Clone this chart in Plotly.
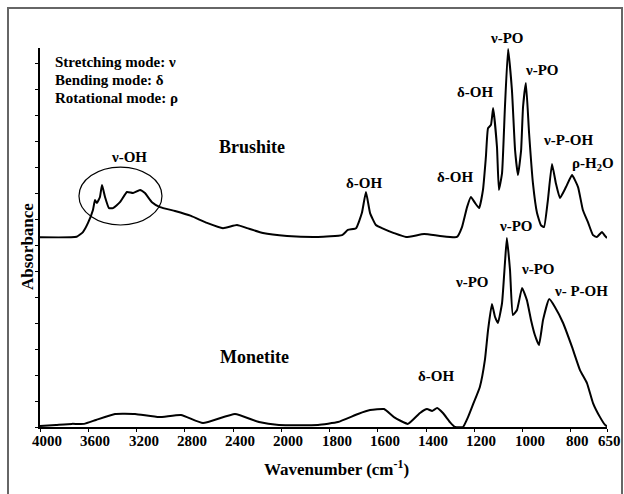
import plotly.graph_objects as go

# ---------------- data ----------------
tick_labels = [4000, 3600, 3200, 2800, 2400, 2000, 1800, 1600, 1400, 1200, 1000, 800, 650]

brushite_wn = [4000, 3696, 3644, 3602, 3561, 3544, 3528, 3503, 3486, 3461, 3428, 3395, 3337,
               3279, 3229, 3171, 3130, 3072, 3005, 2881, 2748, 2616, 2483, 2367, 2284, 2152,
               1976, 1848, 1748, 1724, 1690, 1666, 1649, 1632, 1608, 1583, 1533, 1483, 1408,
               1342, 1272, 1251, 1230, 1214, 1197, 1180, 1164, 1152, 1143, 1131, 1122, 1106,
               1098, 1085, 1073, 1060, 1044, 1031, 1019, 1006, 998, 986, 973, 957, 940, 924,
               911, 895, 878, 862, 845, 820, 795, 770, 750, 729, 708, 692, 671, 658, 650]
brushite_abs = [0.730, 0.732, 0.750, 0.785, 0.835, 0.873, 0.862, 0.885, 0.931, 0.885, 0.842,
                0.842, 0.865, 0.904, 0.900, 0.912, 0.900, 0.865, 0.846, 0.831, 0.812, 0.785,
                0.765, 0.777, 0.765, 0.746, 0.735, 0.731, 0.738, 0.758, 0.765, 0.823, 0.904,
                0.823, 0.777, 0.765, 0.746, 0.731, 0.742, 0.735, 0.731, 0.769, 0.846, 0.885,
                0.862, 0.842, 0.912, 1.038, 1.150, 1.162, 1.227, 1.077, 0.912, 0.977, 1.231,
                1.454, 1.296, 1.065, 0.969, 1.065, 1.231, 1.323, 1.131, 0.938, 0.823, 0.777,
                0.769, 0.873, 1.012, 0.938, 0.881, 0.923, 0.969, 0.923, 0.835, 0.788, 0.738,
                0.731, 0.750, 0.735, 0.727]

monetite_wn = [4000, 3867, 3735, 3635, 3536, 3378, 3213, 3014, 2831, 2649, 2384, 2185, 2019,
               1848, 1765, 1682, 1632, 1574, 1533, 1475, 1425, 1396, 1375, 1354, 1330, 1301,
               1280, 1247, 1226, 1206, 1177, 1156, 1143, 1127, 1114, 1102, 1085, 1073, 1065,
               1052, 1040, 1023, 1002, 982, 965, 949, 932, 915, 890, 866, 832, 795, 762, 733,
               708, 679, 658, 650]
monetite_abs = [0.004, 0.008, 0.012, 0.012, 0.027, 0.050, 0.050, 0.038, 0.046, 0.015, 0.050,
                0.019, 0.008, 0.008, 0.019, 0.050, 0.065, 0.069, 0.038, 0.012, 0.054, 0.069,
                0.062, 0.073, 0.054, 0.019, 0.000, 0.000, 0.038, 0.085, 0.154, 0.258, 0.373,
                0.473, 0.423, 0.400, 0.477, 0.631, 0.727, 0.604, 0.431, 0.450, 0.535, 0.488,
                0.412, 0.354, 0.315, 0.412, 0.492, 0.462, 0.400, 0.308, 0.219, 0.169, 0.092,
                0.038, 0.008, 0.002]

# annotation labels: (text, wavenumber, absorbance)
peak_labels = [
    ("ν-OH", 3262, 1.038),
    ("δ-OH", 1657, 0.938),
    ("δ-OH", 1280, 0.962),
    ("δ-OH", 1197, 1.288),
    ("ν-PO", 1065, 1.496),
    ("ν-PO", 920, 1.373),
    ("ν-P-OH", 808, 1.104),
    ("ρ-H<sub>2</sub>O", 708, 1.012),
    ("ν-PO", 1027, 0.773),
    ("ν-PO", 1210, 0.558),
    ("ν-PO", 936, 0.608),
    ("ν- P-OH", 758, 0.523),
    ("δ-OH", 1359, 0.196),
]
sample_labels = [("Brushite", 2240, 1.077), ("Monetite", 2226, 0.269)]
mode_lines = [("Stretching mode: ν", 3892, 1.404),
              ("Bending mode: δ", 3892, 1.335),
              ("Rotational mode: ρ", 3892, 1.265)]
ellipse_wn = [3677, 2989]
ellipse_abs = [0.777, 1.000]

Y_MAX = 1.458

# ---------------- axis transform (scale doubles below 2000 cm-1) ----------------
def u(wn):
    return 4000 - wn if wn >= 2000 else 2000 + 2 * (2000 - wn)

FONT = "Liberation Serif, Times New Roman, Times, serif"

def bold(size):
    return dict(family=FONT, size=size, color="black", weight="bold")

fig = go.Figure()
for wn, ab in ((brushite_wn, brushite_abs), (monetite_wn, monetite_abs)):
    fig.add_trace(go.Scatter(x=[u(w) for w in wn], y=ab, mode="lines",
                             line=dict(color="black", width=2, shape="spline", smoothing=0.4),
                             showlegend=False, hoverinfo="skip"))

ann = []
for t, w, a in peak_labels:
    # labels above the y range are placed in paper units so they stay visible
    ann.append(dict(text=t, x=u(w), y=a / Y_MAX, xref="x", yref="paper", showarrow=False,
                    xanchor="center", yanchor="middle", font=bold(15)))
for t, w, a in sample_labels:
    ann.append(dict(text=t, x=u(w), y=a, xref="x", yref="y", showarrow=False,
                    xanchor="center", yanchor="middle", font=bold(18)))
for t, w, a in mode_lines:
    ann.append(dict(text=t, x=u(w), y=a, xref="x", yref="y", showarrow=False,
                    xanchor="left", yanchor="middle", font=bold(15)))
# x tick labels (Excel-style, shifted slightly right of the ticks)
for t in tick_labels:
    ann.append(dict(text=str(t), x=u(t), y=(427 - 441) / 379, xref="x", yref="paper",
                    showarrow=False, xanchor="center", yanchor="middle",
                    xshift=2 if t == tick_labels[-1] else 7, font=bold(15)))
# axis titles
ann.append(dict(text="Wavenumber (cm<sup>-1</sup>)", x=(336 - 40) / 567, y=(427 - 468) / 379,
                xref="paper", yref="paper", showarrow=False, xanchor="center",
                yanchor="middle", font=bold(17)))
ann.append(dict(text="Absorbance", x=(27 - 40) / 567, y=(427 - 247) / 379, textangle=-90,
                xref="paper", yref="paper", showarrow=False, xanchor="center",
                yanchor="middle", font=bold(17)))

shapes = [
    dict(type="circle", xref="x", yref="y", x0=u(ellipse_wn[0]), x1=u(ellipse_wn[1]),
         y0=ellipse_abs[0], y1=ellipse_abs[1], line=dict(color="black", width=1.2)),
    dict(type="rect", xref="paper", yref="paper", x0=(8 - 40) / 567, x1=(622 - 40) / 567,
         y0=(427 - 520) / 379, y1=(427 - 8) / 379, line=dict(color="#666666", width=2)),
]

fig.update_layout(
    width=624, height=494,
    margin=dict(l=40, r=17, t=48, b=67),
    paper_bgcolor="white", plot_bgcolor="white",
    annotations=ann, shapes=shapes,
    xaxis=dict(range=[0, 4700], tickvals=[u(t) for t in tick_labels],
               showticklabels=False, ticks="outside", ticklen=3,
               tickcolor="black", showline=True, linecolor="black", linewidth=2,
               showgrid=False, zeroline=False),
    yaxis=dict(range=[0, Y_MAX], tickvals=[i / 10 for i in range(15)], showticklabels=False,
               ticks="outside", ticklen=3, tickcolor="black", showline=True,
               linecolor="black", linewidth=2, showgrid=False, zeroline=False),
)

fig.write_html("out.html")
